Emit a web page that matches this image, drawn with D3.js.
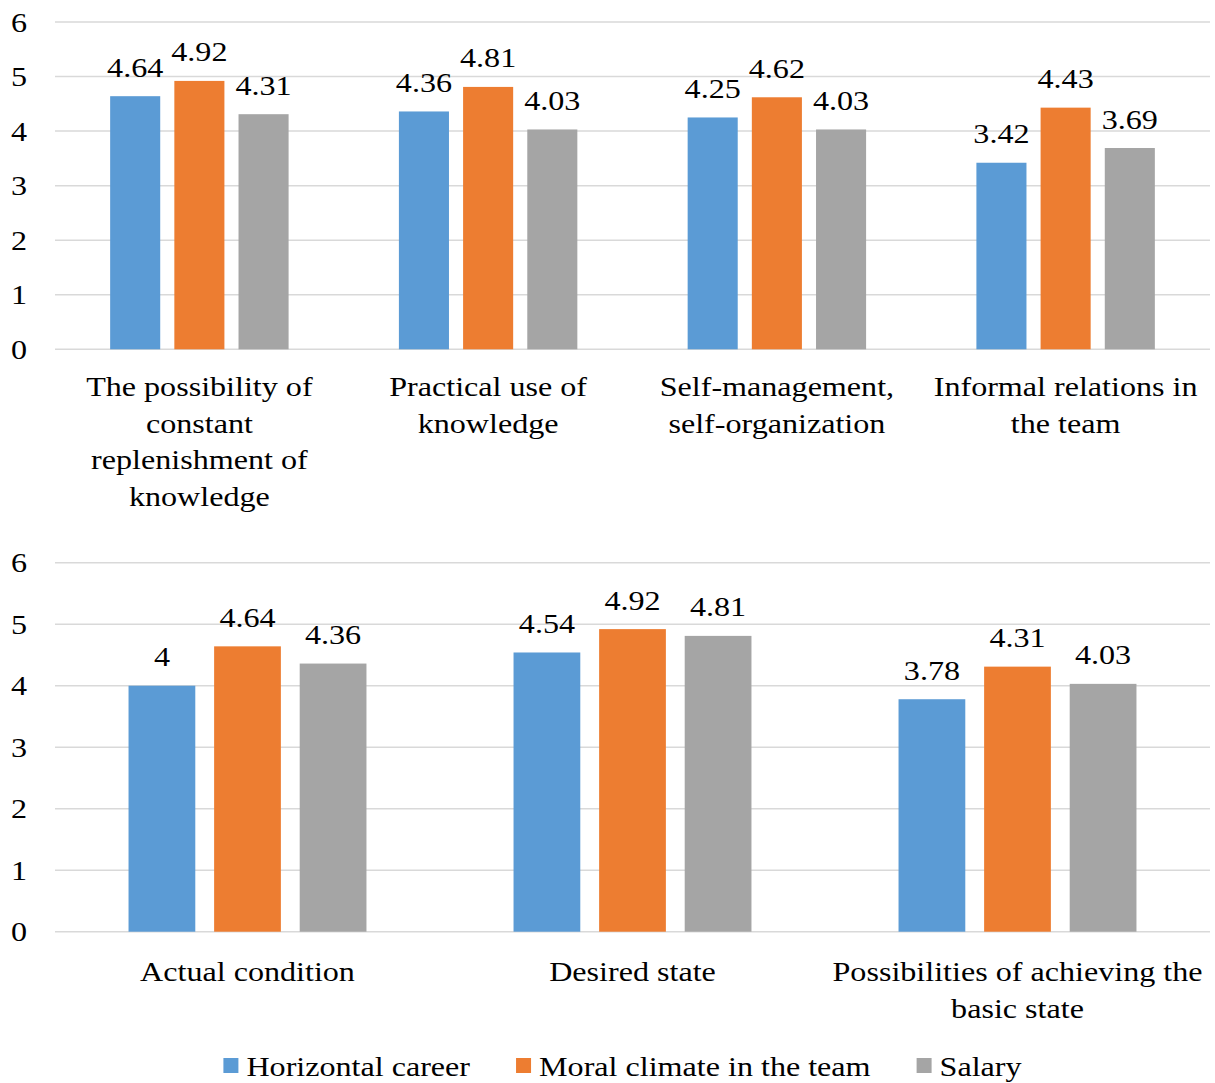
<!DOCTYPE html>
<html><head><meta charset="utf-8">
<script src="https://cdn.jsdelivr.net/npm/d3@7"></script>
<style>body{margin:0;background:#fff}svg{display:block}text{font-family:"Liberation Serif","Times New Roman",serif;fill:#000}</style>
</head><body><svg id="c" width="1215" height="1083"></svg>
<script>
const series = ["Horizontal career","Moral climate in the team","Salary"];
const colors = ["#5B9BD5","#ED7D31","#A5A5A5"];
const yTicks = [0,1,2,3,4,5,6];

const topCategories = [
  ["The possibility of","constant","replenishment of","knowledge"],
  ["Practical use of","knowledge"],
  ["Self-management,","self-organization"],
  ["Informal relations in","the team"]
];
const topHorizontal = [4.64,4.36,4.25,3.42];
const topMoral = [4.92,4.81,4.62,4.43];
const topSalary = [4.31,4.03,4.03,3.69];

const bottomCategories = [
  ["Actual condition"],
  ["Desired state"],
  ["Possibilities of achieving the","basic state"]
];
const bottomHorizontal = [4,4.54,3.78];
const bottomMoral = [4.64,4.92,4.31];
const bottomSalary = [4.36,4.81,4.03];

const svg = d3.select("#c");
const FS = 28, SX = 1.147;

function txt(g, x, y, s, anchor){
  return g.append("text").attr("transform",`translate(${x},${y}) scale(${SX},1)`)
    .attr("text-anchor",anchor||"start").attr("font-size",FS).text(s);
}

function panel(cats, vals, y0px, y6px, labelBaseline){
  const g = svg.append("g");
  const x0 = d3.scaleBand().domain(d3.range(cats.length)).range([55,1210]).paddingInner(0).paddingOuter(0);
  const y = d3.scaleLinear().domain([0,6]).range([y0px,y6px]);
  const groupW = x0.bandwidth()*0.618;
  const x1 = d3.scaleBand().domain(d3.range(series.length)).range([0,groupW]).paddingInner(0.22).paddingOuter(0);
  g.selectAll("line.grid").data(yTicks).join("line")
    .attr("x1",55).attr("x2",1210).attr("y1",d=>y(d)).attr("y2",d=>y(d))
    .attr("stroke","#d9d9d9").attr("stroke-width",1.5);
  yTicks.forEach(d=>txt(g,27,y(d)+9.5,d,"end"));
  const rows = [];
  cats.forEach((c,i)=>series.forEach((s,j)=>rows.push({i,j,v:vals[j][i]})));
  const bx = d=>x0(d.i)+x0.bandwidth()/2-groupW/2+x1(d.j);
  g.selectAll("rect.bar").data(rows).join("rect")
    .attr("x",bx).attr("width",x1.bandwidth())
    .attr("y",d=>y(d.v)).attr("height",d=>y(0)-y(d.v)).attr("fill",d=>colors[d.j]);
  rows.forEach(d=>txt(g,bx(d)+x1.bandwidth()/2,y(d.v)-19.5,d.v,"middle"));
  cats.forEach((lines,i)=>{
    lines.forEach((l,k)=>txt(g,x0(i)+x0.bandwidth()/2,labelBaseline+k*36.6,l,"middle"));
  });
}
panel(topCategories,[topHorizontal,topMoral,topSalary],349.3,22,396);
panel(bottomCategories,[bottomHorizontal,bottomMoral,bottomSalary],931.7,562.7,981);

// legend
const leg = svg.append("g");
let items = series.map((s,j)=>{
  const gi = leg.append("g");
  gi.append("rect").attr("width",15).attr("height",15).attr("y",1058).attr("fill",colors[j]);
  const t = txt(gi,23,1076,s,"start");
  return {gi,w:23+t.node().getComputedTextLength()*SX};
});
const total = d3.sum(items,d=>d.w)+46*(items.length-1);
let cx = 622.5-total/2;
items.forEach(it=>{it.gi.attr("transform",`translate(${cx},0)`);cx+=it.w+46;});
</script></body></html>
